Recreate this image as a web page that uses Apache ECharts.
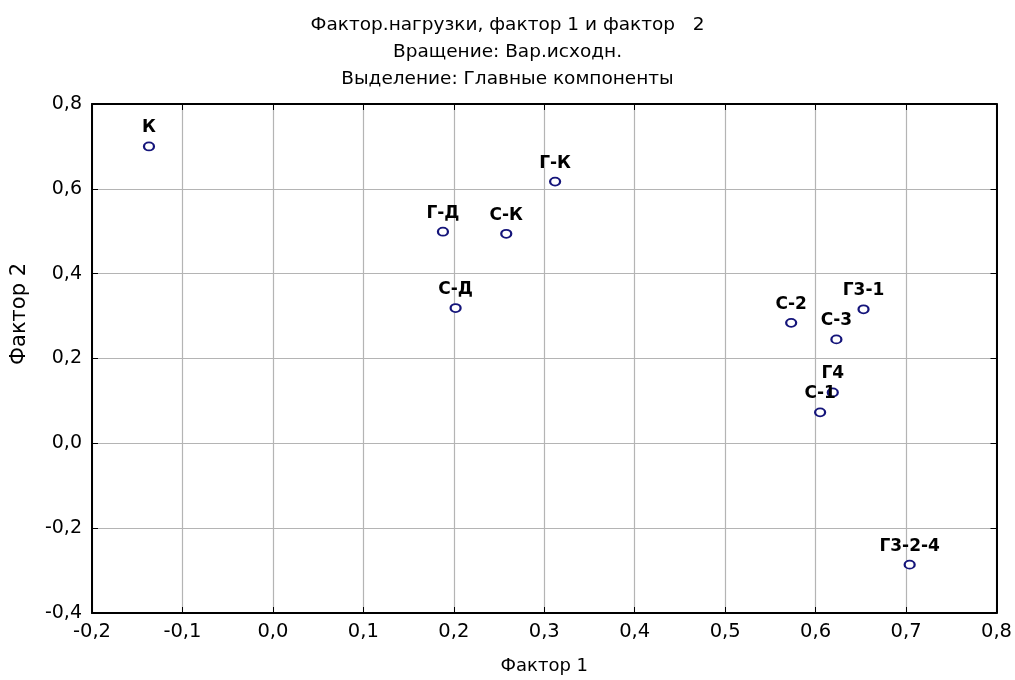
<!DOCTYPE html>
<html>
<head>
<meta charset="utf-8">
<script src="https://cdn.jsdelivr.net/npm/echarts@6/dist/echarts.min.js"></script>
<style>html,body{margin:0;padding:0;background:#fff}#c{width:1015px;height:680px}</style>
</head>
<body>
<div id="c"></div>
<script>
const titleLines = ['Фактор.нагрузки, фактор 1 и фактор   2', 'Вращение: Вар.исходн.', 'Выделение: Главные компоненты'];
const xName = 'Фактор 1';
const yName = 'Фактор 2';
const names = ['К', 'Г-К', 'Г-Д', 'С-К', 'С-Д', 'С-2', 'Г3-1', 'С-3', 'Г4', 'С-1', 'Г3-2-4'];
const factor1 = [-0.137, 0.312, 0.188, 0.258, 0.202, 0.573, 0.653, 0.623, 0.619, 0.605, 0.704];
const factor2 = [0.700, 0.617, 0.499, 0.494, 0.319, 0.284, 0.316, 0.245, 0.120, 0.073, -0.286];
const xRange = [-0.2, 0.8, 0.1];
const yRange = [-0.4, 0.8, 0.2];

const FONT = 'DejaVu Sans';
const fmt = v => v.toFixed(1).replace('.', ',');
const data = names.map((n, i) => ({ name: n, value: [factor1[i], factor2[i]] }));

const chart = echarts.init(document.getElementById('c'), null, { renderer: 'canvas' });
const baseX = {
  type: 'value', min: xRange[0], max: xRange[1], interval: xRange[2],
  axisLine: { show: true, onZero: false, lineStyle: { color: '#000', width: 2 } },
  axisTick: { show: true, inside: true, length: 6, lineStyle: { color: '#000', width: 1 } },
  splitLine: { show: true, lineStyle: { color: '#b4b4b4', width: 1.2 } }
};
const baseY = {
  type: 'value', min: yRange[0], max: yRange[1], interval: yRange[2],
  axisLine: { show: true, onZero: false, lineStyle: { color: '#000', width: 2 } },
  axisTick: { show: true, inside: true, length: 6, lineStyle: { color: '#000', width: 1 } },
  splitLine: { show: true, lineStyle: { color: '#b4b4b4', width: 1.2 } }
};
chart.setOption({
  backgroundColor: '#fff',
  animation: false,
  title: {
    text: titleLines.join('\n'),
    left: 'center', top: 7,
    textStyle: { fontFamily: FONT, fontSize: 18.5, fontWeight: 'normal', color: '#000', lineHeight: 27 }
  },
  grid: { left: 92, right: 18, top: 104, bottom: 64 },
  xAxis: [
    Object.assign({}, baseX, {
      position: 'bottom',
      name: xName, nameLocation: 'middle', nameGap: 44,
      nameTextStyle: { fontFamily: FONT, fontSize: 18, color: '#000' },
      axisLabel: { formatter: fmt, margin: 9, fontFamily: FONT, fontSize: 19.5, color: '#000' }
    }),
    Object.assign({}, baseX, { position: 'top', axisLabel: { show: false }, splitLine: { show: false } })
  ],
  yAxis: [
    Object.assign({}, baseY, {
      position: 'left',
      axisLabel: { formatter: fmt, margin: 10, fontFamily: FONT, fontSize: 19, color: '#000' }
    }),
    Object.assign({}, baseY, { position: 'right', axisLabel: { show: false }, splitLine: { show: false } })
  ],
  graphic: [{
    type: 'text', x: 20, y: 314, rotation: Math.PI / 2,
    style: { text: yName, font: '21px "DejaVu Sans"', fill: '#000', textAlign: 'center', textVerticalAlign: 'middle' }
  }],
  series: [{
    type: 'scatter',
    xAxisIndex: 0, yAxisIndex: 0,
    data: data,
    symbol: 'emptyCircle',
    symbolSize: [10, 8],
    itemStyle: { color: '#14147a', borderWidth: 1.8, opacity: 1 },
    label: {
      show: true, position: 'top', distance: 5,
      formatter: p => p.name,
      fontFamily: FONT, fontSize: 17, fontWeight: 'bold', color: '#000'
    }
  }]
});
</script>
</body>
</html>
